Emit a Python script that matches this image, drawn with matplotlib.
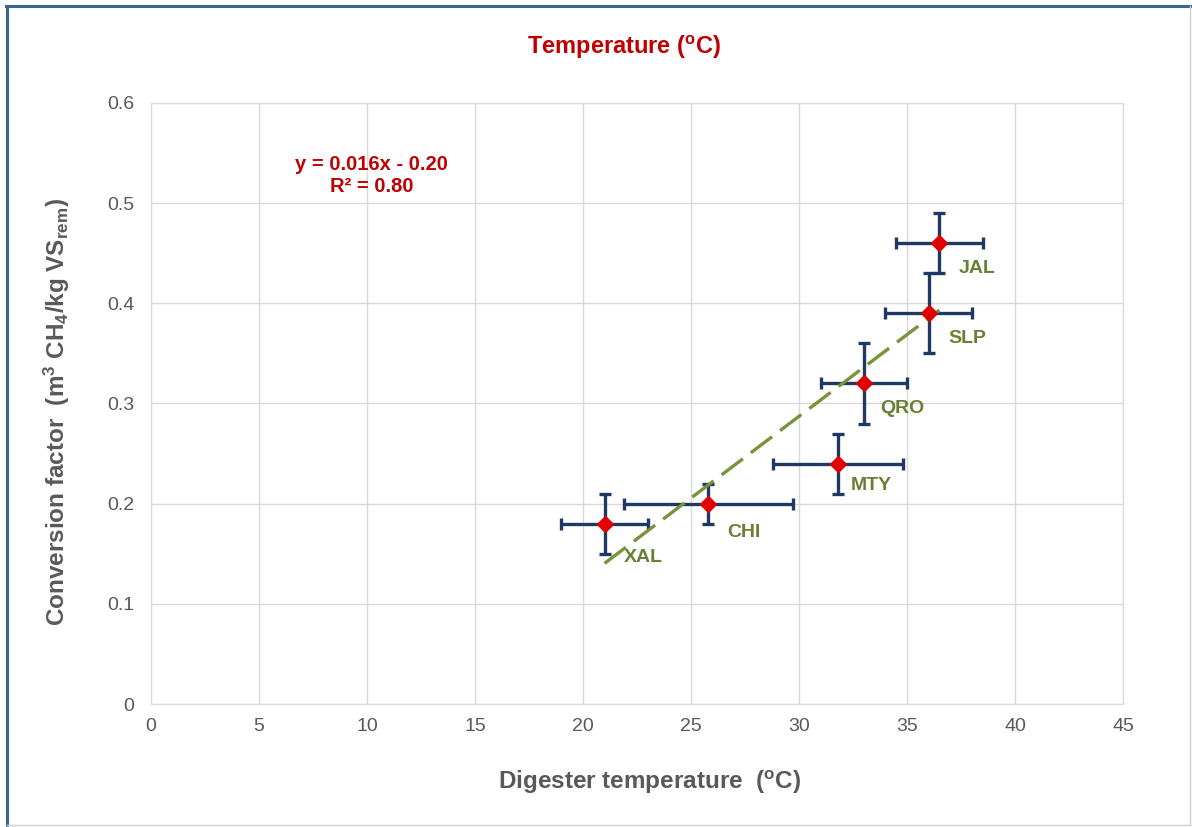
import numpy as np
import matplotlib
matplotlib.use('Agg')
from matplotlib import pyplot as plt
from matplotlib.lines import Line2D


# ------------- Data ---------------

sites = ['XAL', 'CHI', 'MTY', 'QRO', 'SLP', 'JAL']
temp = [21.0, 25.8, 31.8, 33.0, 36.0, 36.5]
temp_err = [2.0, 3.9, 3.0, 2.0, 2.0, 2.0]
conv = [0.18, 0.20, 0.24, 0.32, 0.39, 0.46]
conv_err = [0.03, 0.02, 0.03, 0.04, 0.04, 0.03]

x_ticks = [0, 5, 10, 15, 20, 25, 30, 35, 40, 45]
y_ticks = [0, 0.1, 0.2, 0.3, 0.4, 0.5, 0.6]
y_tick_labels = ['0', '0.1', '0.2', '0.3', '0.4', '0.5', '0.6']


# ------------- Style ---------------

plt.rcParams['font.family'] = ['Liberation Sans', 'DejaVu Sans']
plt.rcParams['mathtext.fontset'] = 'custom'
plt.rcParams['mathtext.rm'] = 'Liberation Sans:bold'
plt.rcParams['mathtext.bf'] = 'Liberation Sans:bold'
plt.rcParams['mathtext.it'] = 'Liberation Sans:bold'

GRAY = '#595959'
GRID = '#D9D9D9'
RED = '#C00000'
NAVY = '#1F3864'
OLIVE = '#77933C'
LABEL = '#6A7E34'


# ------------- Plot ---------------

fig = plt.figure(figsize=(11.92, 8.27), dpi=100)
ax = fig.add_axes([0.1267, 0.1487, 0.8154, 0.7268])

ax.errorbar(temp, conv, xerr=temp_err, yerr=conv_err, fmt='none',
            ecolor=NAVY, elinewidth=2.4, capsize=4.5, capthick=2.4, zorder=3)

# linear trend line over the data range
slope, intercept = np.polyfit(temp, conv, 1)
xs = np.array([min(temp), max(temp)])
ax.plot(xs, slope * xs + intercept, color=OLIVE, lw=2.4,
        dashes=(8, 3), zorder=4)

ax.plot(temp, conv, 'D', color='#E00000', ms=8, mec='#E00000', zorder=5)

offsets = [(14, -24), (14, -21), (9, -16), (12, -18), (14, -18), (14, -18)]
for name, x, y, off in zip(sites, temp, conv, offsets):
	ax.annotate(name, (x, y), xytext=off, textcoords='offset points',
	            color=LABEL, fontsize=14, fontweight='bold', va='center')

ax.text(0.227, 0.88, 'y = 0.016x - 0.20\nR² = 0.80', transform=ax.transAxes,
        color=RED, fontsize=14.5, fontweight='bold', ha='center', va='center',
        linespacing=1.2)

ax.set_xlim(0, 45)
ax.set_ylim(0, 0.6)
ax.set_xticks(x_ticks)
ax.set_yticks(y_ticks)
ax.set_yticklabels(y_tick_labels)
ax.tick_params(length=0, labelsize=14, colors=GRAY)
ax.tick_params(axis='x', pad=10)
ax.tick_params(axis='y', pad=12)
ax.grid(color=GRID, lw=1)
ax.set_axisbelow(True)
for sp in ax.spines.values():
	sp.set_color(GRID)

ax.set_xlabel(r'Digester temperature  ($\mathbf{^{o}}$C)', fontsize=17.5,
              fontweight='bold', color=GRAY)
ax.set_ylabel(r'Conversion factor  (m$\mathbf{^{3}}$ CH$\mathbf{_{4}}$/kg VS$\mathbf{_{rem}}$)',
              fontsize=17.5, fontweight='bold', color=GRAY)
ax.xaxis.set_label_coords(0.513, -0.108)
ax.yaxis.set_label_coords(-0.081, 0.486)

fig.text(0.524, 0.943, r'Temperature ($\mathbf{^{o}}$C)', color=RED,
         fontsize=17, fontweight='bold', ha='center', va='center')

# frame around the chart
fig.add_artist(Line2D([0.005, 0.9985], [0.9925, 0.9925], color='#3A6591', lw=2.2))
fig.add_artist(Line2D([0.006, 0.006], [0.002, 0.993], color='#3A6591', lw=2.2))
fig.add_artist(Line2D([0.9985, 0.9985], [0.002, 0.993], color='#D0D0D0', lw=1))
fig.add_artist(Line2D([0.006, 0.9985], [0.002, 0.002], color='#D0D0D0', lw=1))

fig.savefig('out.png', dpi=100)
